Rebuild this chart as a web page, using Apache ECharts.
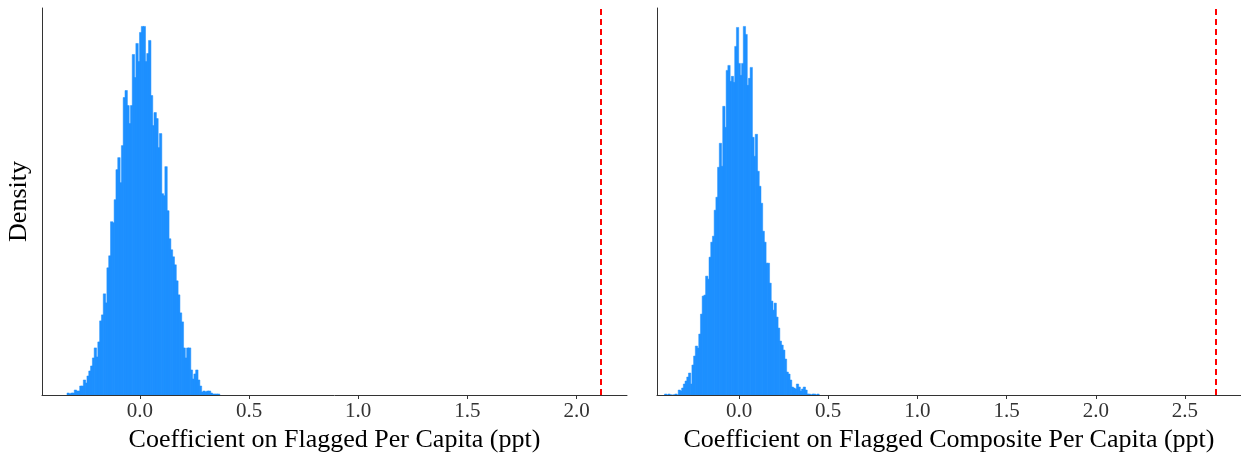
<!DOCTYPE html>
<html>
<head>
<meta charset="utf-8">
<title>Permutation histograms</title>
<script src="https://cdn.jsdelivr.net/npm/echarts@6/dist/echarts.min.js"></script>
<style>
html,body{margin:0;padding:0;background:#fff;}
#container{width:1241px;height:460px;}
</style>
</head>
<body>
<div id="container"></div>
<script>
    // left panel: placebo coefficients, bins
    var leftBinStart = -0.334;
    var leftBinWidth = 0.0083;
    var leftDensity = [2, 1, 2, 2, 5, 4, 4, 9, 9, 15, 12, 19, 24, 29, 37, 47, 38, 53, 74, 80,
        101, 92, 127, 139, 173, 172, 195, 225, 237, 212, 249, 297, 304, 289, 271, 289, 340, 317, 351, 333,
        362, 368, 368, 333, 341, 354, 299, 269, 282, 276, 247, 261, 201, 199, 228, 184, 156, 145, 138, 130,
        114, 100, 82, 73, 47, 37, 47, 47, 25, 16, 21, 25, 15, 9, 3, 4, 3, 4, 4, 2,
        1, 1, 1, 1];
    var leftObserved = 2.112;
    var leftTicks = [0, 0.5, 1, 1.5, 2];
    var leftTitle = 'Coefficient on Flagged Per Capita (ppt)';

    // right panel
    var rightBinStart = -0.418;
    var rightBinWidth = 0.0096;
    var rightDensity = [1, 0, 1, 0, 0, 0, 1, 0, 5, 4, 7, 11, 14, 18, 22, 11, 30, 39, 49, 47,
        61, 81, 99, 100, 119, 116, 138, 153, 159, 185, 198, 228, 252, 229, 289, 268, 325, 330, 314, 319,
        313, 349, 368, 332, 320, 332, 369, 361, 310, 317, 328, 258, 239, 261, 224, 209, 192, 164, 153, 132,
        132, 112, 94, 85, 92, 78, 67, 54, 50, 45, 36, 23, 21, 15, 8, 7, 6, 11, 8, 4,
        6, 8, 5, 1, 1, 0, 1, 1, 0, 1];
    var rightObserved = 2.674;
    var rightTicks = [0, 0.5, 1, 1.5, 2, 2.5];
    var rightTitle = 'Coefficient on Flagged Composite Per Capita (ppt)';

    var yTitle = 'Density';

    var FONT = 'Liberation Serif';
    var BAR = '#1E90FF';

    function toBins(start, width, heights){
        return heights.map(function(h, i){
            return [start + i * width, start + (i + 1) * width, h];
        });
    }

    function renderBar(params, api){
        var a = api.coord([api.value(0), api.value(2)]);
        var b = api.coord([api.value(1), 0]);
        return {
            type: 'rect',
            shape: {x: a[0], y: a[1], width: b[0] - a[0] + 0.6, height: b[1] - a[1]},
            style: {fill: BAR, stroke: BAR, lineWidth: 0.5}
        };
    }

    function xAxisFor(idx, min, max, ticks, title){
        return {
            type: 'value',
            gridIndex: idx,
            min: min,
            max: max,
            z: 5,
            name: title,
            nameLocation: 'middle',
            nameGap: 30,
            nameTextStyle: {fontFamily: FONT, fontSize: 26, color: '#000'},
            splitLine: {show: false},
            axisLine: {onZero: false, lineStyle: {color: '#333', width: 1}},
            axisTick: {show: true, length: 4, customValues: ticks, lineStyle: {color: '#333'}},
            axisLabel: {
                customValues: ticks,
                margin: 6,
                fontFamily: FONT,
                fontSize: 21,
                color: '#333',
                formatter: function(v){ return v.toFixed(1); }
            }
        };
    }

    function yAxisFor(idx, heights, name){
        return {
            type: 'value',
            gridIndex: idx,
            min: 0,
            max: Math.max.apply(null, heights) * 1.05,
            z: 5,
            name: name,
            nameLocation: 'middle',
            nameRotate: 90,
            nameGap: 10,
            nameTextStyle: {fontFamily: FONT, fontSize: 26, color: '#000'},
            splitLine: {show: false},
            axisLine: {show: true, onZero: false, lineStyle: {color: '#333', width: 1}},
            axisTick: {show: false},
            axisLabel: {show: false}
        };
    }

    function histSeries(idx, start, width, heights, observed){
        return {
            type: 'custom',
            xAxisIndex: idx,
            yAxisIndex: idx,
            renderItem: renderBar,
            encode: {x: [0, 1], y: 2},
            clip: true,
            silent: true,
            data: toBins(start, width, heights),
            markLine: {
                silent: true,
                symbol: 'none',
                label: {show: false},
                lineStyle: {color: '#ff0000', width: 2, type: [6, 4], opacity: 1},
                data: [{xAxis: observed}]
            }
        };
    }

    var option = {
        animation: false,
        backgroundColor: '#fff',
        grid: [
            {left: 42, right: 614, top: 8, bottom: 65},
            {left: 657, right: 0, top: 8, bottom: 65}
        ],
        xAxis: [
            xAxisFor(0, -0.4485, 2.231, leftTicks, leftTitle),
            xAxisFor(1, -0.46, 2.814, rightTicks, rightTitle)
        ],
        yAxis: [
            yAxisFor(0, leftDensity, yTitle),
            yAxisFor(1, rightDensity, '')
        ],
        series: [
            histSeries(0, leftBinStart, leftBinWidth, leftDensity, leftObserved),
            histSeries(1, rightBinStart, rightBinWidth, rightDensity, rightObserved)
        ]
    };

    var myChart = echarts.init(document.getElementById('container'));
    myChart.setOption(option, true);
</script>
</body>
</html>
